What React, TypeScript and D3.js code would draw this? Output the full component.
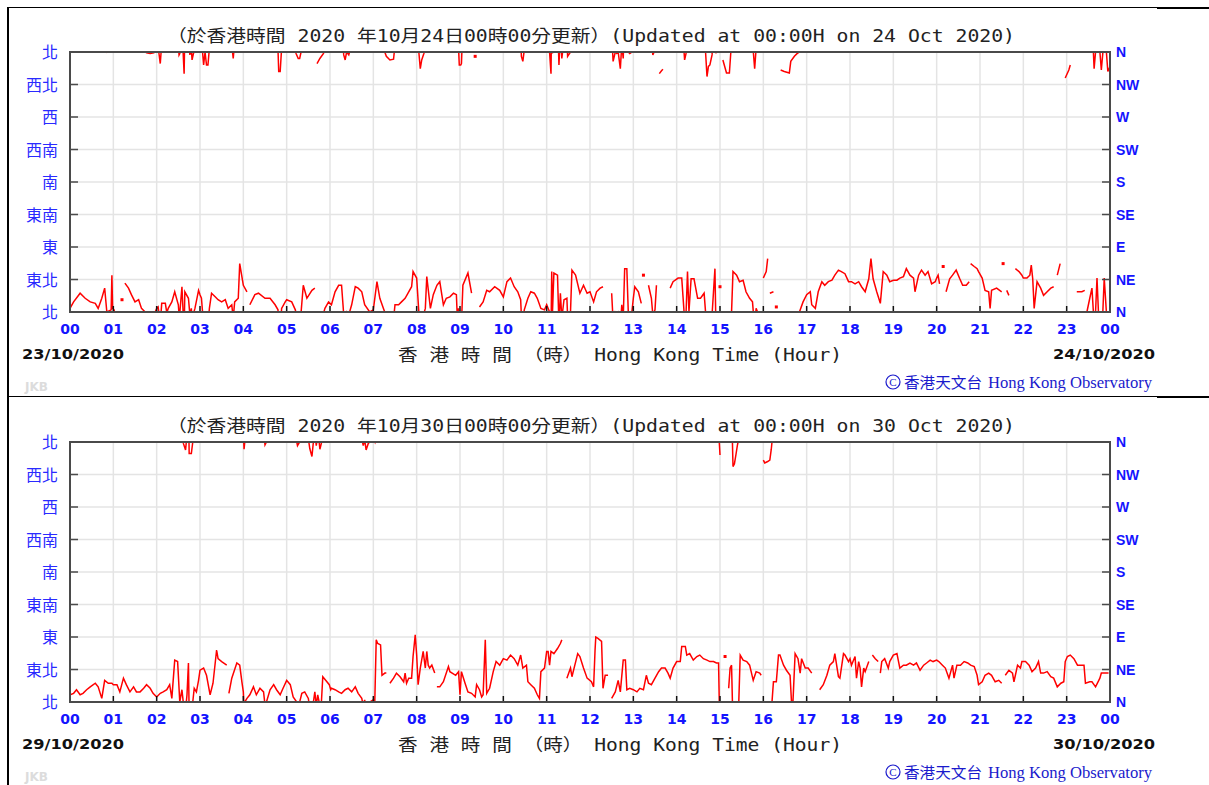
import React from "react";
import * as d3 from "d3";

// [minutes after 00:00, wind direction in degrees]; null marks a gap in the record
type Reading = [number, number | null];

const hourLabels = [
  "00", "01", "02", "03", "04", "05", "06", "07", "08", "09", "10", "11",
  "12", "13", "14", "15", "16", "17", "18", "19", "20", "21", "22", "23", "00",
];
const dirDegrees = [0, 45, 90, 135, 180, 225, 270, 315, 360];
const dirZh = ["北", "東北", "東", "東南", "南", "西南", "西", "西北", "北"];
const dirEn = ["N", "NE", "E", "SE", "S", "SW", "W", "NW", "N"];

const day1Readings: Reading[] = [
  [0, 5], [5, 14], [14, 26], [21, 19], [28, 14], [35, 12], [39, 5], [44, 19], [48, 33], [51, 0], [57, 3], [58, 51], [59, 5], [61, 3], [62, 359], [64, null],
  [72, 17], [74, null],
  [76, 40], [81, 33], [85, 24], [90, 14], [95, 17], [99, 5], [104, 0], [106, 359], [111, 358], [116, 359], [118, 0], [120, 5], [122, 7], [125, 344], [127, 12], [132, 12], [134, 359], [136, 5], [141, 14], [145, 28], [150, 10], [151, 356], [152, 358], [155, 35], [158, 330], [159, 28], [164, 19], [166, 356], [168, 5], [169, 349], [171, 358], [173, 5], [178, 30], [180, 24], [182, 19], [185, 342], [187, 0], [189, 342], [191, 342], [193, 5], [196, 26], [201, 21], [205, 17], [210, 14], [215, 17], [219, 5], [224, 10], [226, 351], [228, 14], [233, 19], [235, 67], [240, 37], [245, 28], [247, null],
  [249, 10], [256, 24], [261, 26], [270, 19], [277, 19], [284, 10], [288, 3], [289, 333], [291, 333], [293, 5], [298, 14], [300, 17], [307, 14], [312, 3], [313, 358], [316, 351], [318, 351], [320, 0], [323, 37], [328, 19], [335, 30], [339, 33], [341, null],
  [342, 344], [346, 351], [351, 358], [353, 5], [358, 14], [362, 10], [367, 28], [372, 37], [376, 37], [378, 10], [379, 356], [381, 349], [383, 0], [386, 356], [390, 10], [395, 35], [399, 33], [404, 28], [408, 10], [415, 0], [420, 3], [425, 42], [429, 19], [434, 5], [438, 354], [443, 349], [448, 350], [450, 10], [455, 10], [459, 14], [464, 19], [469, 28], [473, 35], [475, 56], [480, 47], [483, 0], [485, 337], [487, 349], [490, 358], [492, 5], [494, 49], [499, 5], [503, 24], [508, 37], [512, 42], [517, 10], [521, 19], [526, 21], [531, 26], [535, 24], [536, 359], [538, 5], [539, 342], [541, 342], [542, 344], [544, 37], [551, 54], [556, 26], [558, null],
  [561, 354], [563, null],
  [567, 7], [572, 14], [577, 30], [581, 28], [588, 35], [595, 30], [600, 21], [605, 42], [610, 47], [615, 35], [620, 28], [624, 17], [625, 354], [627, 347], [629, 3], [634, 19], [638, 28], [643, 26], [647, 19], [652, 5], [657, 3], [660, 10], [664, 0], [666, 330], [667, 56], [668, 358], [670, 54], [675, 51], [677, 342], [679, 26], [681, 351], [684, 17], [688, 19], [689, 354], [693, 0], [695, 58], [700, 51], [706, 26], [711, 37], [716, 26], [720, 28], [725, 14], [729, 28], [734, 33], [738, 35], [741, null],
  [750, 26], [752, 347], [755, 0], [757, 358], [759, 0], [762, 337], [764, 10], [766, 351], [768, 60], [771, 60], [773, 0], [775, 358], [778, 0], [780, 19], [782, 35], [787, 28], [791, 12], [793, null],
  [794, 51], [796, null],
  [801, 37], [805, 19], [807, 356], [810, 3], [812, 37], [814, null],
  [816, 330], [819, 334], [821, 336], [823, null],
  [831, 33], [835, 42], [842, 47], [847, 47], [851, 349], [853, 358], [855, 56], [857, 0], [860, 46], [864, 46], [869, 19], [873, 19], [878, 26], [880, 0], [882, 326], [884, 340], [886, 342], [889, 356], [891, 28], [893, 60], [894, 0], [895, 358], [896, null],
  [900, 35], [902, null],
  [904, 349], [909, 331], [913, 331], [915, 360], [916, 0], [918, 56], [923, 51], [927, 42], [932, 44], [936, 28], [941, 19], [945, 14], [948, 337], [950, 5], [952, 0], [954, null],
  [960, 47], [964, 56], [966, 74], [968, null],
  [969, 26], [974, 28], [976, null],
  [978, 7], [980, null],
  [984, 335], [989, 333], [996, 331], [998, 347], [1003, 354], [1007, 358], [1010, 0], [1015, 14], [1020, 24], [1025, 28], [1027, 10], [1032, 5], [1036, 28], [1041, 42], [1045, 37], [1050, 42], [1055, 44], [1059, 51], [1064, 58], [1068, 56], [1073, 53], [1078, 42],
  [1082, 42], [1087, 39], [1092, 42], [1096, 35], [1101, 28], [1106, 46], [1109, 74], [1112, 46], [1117, 28], [1122, 12], [1126, 56], [1131, 51], [1135, 42], [1140, 44],
  [1145, 44], [1149, 47], [1154, 49], [1158, 60], [1163, 51], [1168, 47], [1170, 28], [1175, 51], [1179, 58], [1184, 51], [1188, 56], [1193, 39], [1198, 42], [1200, 47],
  [1202, 51], [1204, 39], [1206, null],
  [1209, 63], [1211, null],
  [1213, 28], [1218, 46], [1222, 51], [1227, 58], [1232, 46], [1236, 37], [1241, 37], [1245, 42], [1246, null],
  [1247, 67], [1252, 63], [1256, 60], [1258, 56], [1263, 47], [1267, 30], [1272, 28], [1274, 5], [1276, 30], [1283, 33], [1290, 28], [1291, null],
  [1292, 67], [1294, null],
  [1297, 30], [1300, 23], [1302, null],
  [1309, 60], [1314, 56], [1318, 51], [1320, 47], [1325, 47], [1329, 51], [1331, 65], [1333, 46], [1335, 5], [1339, 42], [1344, 33], [1348, 23], [1353, 28], [1358, 33], [1362, 35], [1364, null],
  [1367, 51], [1371, 67], [1373, null],
  [1378, 324], [1383, 335], [1385, 342], [1387, null],
  [1394, 28], [1401, 28], [1405, 30], [1407, null],
  [1408, 0], [1412, 19], [1415, 33], [1417, 0], [1418, 337], [1420, 360], [1422, 47], [1424, 0], [1426, 360], [1428, 335], [1430, 358], [1432, 47], [1435, 0], [1437, 333], [1440, 340],
];

const day2Readings: Reading[] = [
  [0, 10], [5, 12], [9, 17], [14, 10], [18, 12], [23, 17], [28, 21], [35, 26], [39, 21], [44, 5], [48, 30], [53, 26], [58, 26], [60, 24],
  [65, 24], [69, 14], [74, 33], [78, 24], [83, 14], [88, 21], [92, 14], [97, 14], [102, 19], [106, 24], [111, 19], [115, 12], [120, 7],
  [125, 12], [129, 14], [134, 17], [138, 24], [141, 5], [145, 58], [149, 56], [152, 0], [155, 17], [157, 358], [160, 349], [162, 10], [164, 54], [165, 344], [168, 344], [170, 0], [172, 19], [175, 14], [178, 30], [180, 44],
  [185, 47], [189, 37], [194, 10], [198, 26], [203, 72], [205, 60], [210, 56], [217, 51], [219, null],
  [220, 12], [224, 33], [231, 54], [235, 51], [238, 28], [240, 14], [241, 350], [242, 0], [245, 5], [249, 10], [254, 21], [258, 10], [263, 19], [268, 14], [270, 356], [272, 0], [277, 17], [282, 24], [286, 17], [291, 10], [295, 19], [300, 30],
  [305, 24], [309, 7], [314, 0], [315, 355], [318, 0], [321, 12], [325, 14], [330, 5], [332, 351], [335, 340], [337, 0], [339, 14], [341, 355], [343, 10], [345, 0], [346, 350], [348, 358], [350, 35], [354, 30], [359, 24], [361, 17],
  [362, 19], [367, 17], [372, 14], [376, 12], [381, 17], [385, 19], [390, 14], [395, 21], [399, 12], [404, 5], [406, 355], [408, 3], [410, 349], [413, 358], [415, 0], [420, 3],
  [422, 0], [424, 86], [426, 81], [430, 79], [432, 37], [436, 40], [438, 40], [440, null],
  [443, 26], [448, 33], [452, 40], [457, 35], [462, 28], [464, 40], [466, 26], [469, 33], [473, 33], [475, 63], [478, 93], [480, 65],
  [482, 24], [485, 47], [489, 70], [492, 47], [494, 70], [496, 51], [498, 47], [501, 51], [505, 40], [507, null],
  [508, 21], [512, 21], [517, 28], [524, 49], [526, 42], [534, 37], [538, 42],
  [540, 10], [542, 42], [547, 26], [551, 14], [556, 12], [561, 7], [563, 24], [567, 17], [570, 7], [572, 10], [575, 86], [577, 12], [581, 19], [586, 42], [590, 56], [595, 51],
  [600, 60], [605, 58], [610, 65], [615, 60], [620, 51], [624, 65], [627, 47], [632, 51], [634, 28], [638, 24], [643, 19], [647, 10], [650, 5], [652, 42], [657, 47], [660, 70],
  [662, 70], [664, 51], [666, 70], [670, 67], [675, 74], [679, 81], [681, 86], [683, null],
  [688, 33], [693, 47], [695, 35], [699, 51], [703, 67], [706, 63], [711, 47], [716, 33], [722, 28],
  [725, 21], [727, 72], [728, 90], [731, 88], [736, 84], [738, 19], [741, 37], [745, 37], [747, null],
  [750, 5], [755, 14], [759, 30], [762, 14], [766, 58], [769, 58], [771, 17], [775, 19], [780, 17],
  [785, 14], [789, 19], [794, 17], [798, 37], [801, 26], [805, 24], [810, 33], [815, 42], [819, 47], [824, 47], [828, 40], [831, 33], [835, 47], [840, 56],
  [845, 56], [847, 77], [852, 77], [854, 65], [858, 67], [863, 58], [868, 63], [872, 65], [877, 60], [882, 58], [886, 56], [891, 56], [895, 54], [898, 54], [899, 0], [900, 342], [902, null],
  [907, 63], [909, null],
  [912, 19], [914, 47], [916, 51], [918, 326], [920, 330], [922, 342], [924, 355], [925, 360], [926, 0], [928, 65], [932, 58], [937, 56], [941, 51], [946, 30], [950, 42], [955, 40], [957, 37], [959, null],
  [960, 335], [962, 331], [966, 333], [969, 335], [971, 350], [972, 0], [974, 28], [978, 28], [981, 65], [983, 65], [988, 51], [992, 44], [997, 37], [999, 0], [1001, 360], [1004, 67], [1008, 60], [1011, 40], [1013, 60], [1018, 47], [1022, 47], [1027, 40], [1029, null],
  [1038, 17], [1043, 24], [1048, 37], [1052, 51], [1057, 56], [1059, 67], [1064, 35], [1066, 33], [1071, 67], [1073, 65], [1078, 56], [1080, 60],
  [1082, 51], [1087, 63], [1089, 33], [1092, 56], [1094, 47], [1096, 21], [1099, 47], [1101, 42], [1106, 56], [1108, null],
  [1111, 65], [1115, 60], [1119, 56], [1121, null],
  [1122, 40], [1124, 56], [1128, 60], [1133, 47], [1135, 56], [1140, 65],
  [1145, 67], [1149, 47], [1154, 51], [1158, 51], [1163, 54], [1168, 51], [1172, 54], [1177, 44], [1182, 51], [1186, 54], [1191, 58], [1195, 56], [1200, 58],
  [1203, 56], [1208, 51], [1212, 47], [1217, 33], [1222, 51], [1224, 33], [1228, 51], [1233, 51], [1238, 56], [1243, 54], [1247, 51], [1252, 49], [1256, 37], [1258, 24],
  [1263, 28], [1267, 37], [1272, 40], [1276, 37], [1281, 28], [1286, 30], [1290, 26], [1292, null],
  [1295, 37], [1300, 44], [1305, 40], [1307, 28], [1312, 51], [1316, 47], [1318, 56],
  [1323, 56], [1328, 51], [1332, 42], [1337, 47], [1341, 56], [1344, 40], [1348, 40], [1353, 42], [1358, 35], [1362, 33], [1367, 21], [1372, 26], [1376, 28], [1378, 56],
  [1381, 63], [1385, 65], [1390, 60], [1395, 51], [1399, 51], [1404, 51], [1406, 26], [1412, 28], [1415, 28], [1420, 21], [1426, 33], [1428, 40], [1438, 40],
];

const panels = [
  {
    title: "（於香港時間 2020 年10月24日00時00分更新）(Updated at 00:00H on 24 Oct 2020)",
    startDate: "23/10/2020",
    endDate: "24/10/2020",
    readings: day1Readings,
  },
  {
    title: "（於香港時間 2020 年10月30日00時00分更新）(Updated at 00:00H on 30 Oct 2020)",
    startDate: "29/10/2020",
    endDate: "30/10/2020",
    readings: day2Readings,
  },
];

const mod360 = (v: number) => ((v % 360) + 360) % 360;

// split on gaps and unwrap each run so a swing through north stays one short step
function toRuns(readings: Reading[]) {
  const runs: [number, number][][] = [];
  let cur: [number, number][] = [];
  for (const [t, v] of readings) {
    if (v === null) {
      if (cur.length) runs.push(cur);
      cur = [];
      continue;
    }
    if (cur.length) {
      const prev = cur[cur.length - 1][1];
      const d = mod360(v - prev + 180) - 180;
      cur.push([t, prev + d]);
    } else cur.push([t, v]);
  }
  if (cur.length) runs.push(cur);
  return runs;
}

const BLUE = "#1414ff";
const AXIS = "#4a4a4a";

function Panel({ cfg, index }: { cfg: (typeof panels)[number]; index: number }) {
  const x = d3.scaleLinear().domain([0, 1440]).range([70, 1110]);
  const y = d3.scaleLinear().domain([0, 360]).range([312, 52]);
  const line = d3
    .line<[number, number]>()
    .x((d) => x(d[0]))
    .y((d) => y(d[1]));
  const runs = toRuns(cfg.readings);
  const clipId = "plot-clip-" + index;
  const offsets = [-720, -360, 0, 360, 720];

  return (
    <g transform={`translate(0,${index * 390})`}>
      <defs>
        <clipPath id={clipId}>
          <rect x={70} y={51} width={1040} height={262} />
        </clipPath>
      </defs>

      <text
        x={167}
        y={42}
        fontFamily="'DejaVu Sans Mono', 'Noto Sans CJK TC', monospace"
        fontSize={17}
        fill="#222"
        textLength={848}
        lengthAdjust="spacingAndGlyphs"
      >
        {cfg.title}
      </text>

      {/* grid */}
      {d3.range(1, 24).map((h) => (
        <line key={"gx" + h} x1={x(h * 60)} x2={x(h * 60)} y1={52} y2={312} stroke="#e4e4e4" strokeWidth={1.5} />
      ))}
      {dirDegrees.slice(1, -1).map((d) => (
        <line key={"gy" + d} x1={70} x2={1110} y1={y(d)} y2={y(d)} stroke="#e4e4e4" strokeWidth={1.5} />
      ))}

      {/* wind direction trace */}
      <g clipPath={`url(#${clipId})`}>
        {runs
          .filter((r) => r.length > 1)
          .map((r, i) =>
            offsets.map((off) => (
              <path
                key={i + "_" + off}
                d={line(r.map(([t, u]) => [t, u + off] as [number, number])) || ""}
                fill="none"
                stroke="#ff0000"
                strokeWidth={1.5}
              />
            ))
          )}
        {runs
          .filter((r) => r.length === 1)
          .map((r, i) => (
            <rect
              key={"pt" + i}
              x={x(r[0][0]) - 1.5}
              y={y(mod360(r[0][1])) - 1.5}
              width={3}
              height={3}
              fill="#ff0000"
            />
          ))}
      </g>

      {/* ticks */}
      {dirDegrees.slice(1, -1).map((d) => (
        <g key={"t" + d}>
          <line x1={70} x2={78} y1={y(d)} y2={y(d)} stroke={AXIS} strokeWidth={1.5} />
          <line x1={1102} x2={1110} y1={y(d)} y2={y(d)} stroke={AXIS} strokeWidth={1.5} />
        </g>
      ))}
      {d3.range(1, 24).map((h) => (
        <line key={"tx" + h} x1={x(h * 60)} x2={x(h * 60)} y1={306} y2={312} stroke="#111" strokeWidth={1.5} />
      ))}
      <rect x={70} y={52} width={1040} height={260} fill="none" stroke={AXIS} strokeWidth={2} />

      {/* direction labels */}
      {dirDegrees.map((d, i) => (
        <text
          key={"zh" + i}
          x={58}
          y={y(d) + 6}
          textAnchor="end"
          fontFamily="'Noto Sans CJK TC', sans-serif"
          fontSize={16}
          fill="#2a2aff"
        >
          {dirZh[i]}
        </text>
      ))}
      {dirDegrees.map((d, i) => (
        <text
          key={"en" + i}
          x={1116}
          y={y(d) + 5}
          fontFamily="'Liberation Sans', Arial, sans-serif"
          fontWeight="bold"
          fontSize={14}
          fill={BLUE}
        >
          {dirEn[i]}
        </text>
      ))}

      {/* hour labels */}
      {hourLabels.map((lab, h) => (
        <text
          key={"h" + h}
          x={x(h * 60)}
          y={334}
          textAnchor="middle"
          fontFamily="'DejaVu Sans', Verdana, sans-serif"
          fontWeight="bold"
          fontSize={14}
          fill={BLUE}
        >
          {lab}
        </text>
      ))}

      <text x={22} y={359} fontFamily="'DejaVu Sans', Verdana, sans-serif" fontWeight="bold" fontSize={14} fill="#111" textLength={102} lengthAdjust="spacingAndGlyphs">
        {cfg.startDate}
      </text>
      <text x={1053} y={359} fontFamily="'DejaVu Sans', Verdana, sans-serif" fontWeight="bold" fontSize={14} fill="#111" textLength={102} lengthAdjust="spacingAndGlyphs">
        {cfg.endDate}
      </text>

      <text
        x={398}
        y={361}
        fontFamily="'DejaVu Sans Mono', 'Noto Sans CJK TC', monospace"
        fontSize={17}
        fill="#222"
        textLength={444}
        lengthAdjust="spacingAndGlyphs"
      >
        香 港 時 間 （時） Hong Kong Time (Hour)
      </text>

      <text x={25} y={391} fontFamily="'DejaVu Sans', sans-serif" fontWeight="bold" fontSize={12} fill="#dcdcdc">
        JKB
      </text>

      {/* observatory credit */}
      <circle cx={893} cy={382} r={7} fill="none" stroke="#1a1acc" strokeWidth={1.2} />
      <text x={893} y={386} textAnchor="middle" fontFamily="'Liberation Serif', serif" fontSize={11} fill="#1a1acc">
        C
      </text>
      <text x={904} y={388} fontFamily="'Noto Sans CJK TC', sans-serif" fontSize={15} fill="#1a1acc" textLength={78} lengthAdjust="spacingAndGlyphs">
        香港天文台
      </text>
      <text x={988} y={388} fontFamily="'Liberation Serif', serif" fontSize={16} fill="#1a1acc" textLength={164} lengthAdjust="spacingAndGlyphs">
        Hong Kong Observatory
      </text>
    </g>
  );
}

export default function App() {
  return (
    <div style={{ position: "absolute", left: 0, top: 0, background: "#fff" }}>
      <svg width={1209} height={785} style={{ display: "block" }}>
        <rect width={1209} height={785} fill="#fff" />
        {panels.map((p, i) => (
          <Panel key={i} cfg={p} index={i} />
        ))}
        {/* outer frame */}
        <line x1={8} x2={1209} y1={7.5} y2={7.5} stroke="#000" strokeWidth={1.2} />
        <rect x={1157} y={7} width={52} height={2} fill="#000" />
        <line x1={8} x2={8} y1={7} y2={785} stroke="#000" strokeWidth={2} />
        <line x1={8} x2={1209} y1={396.5} y2={396.5} stroke="#000" strokeWidth={1.2} />
        <rect x={1157} y={396} width={52} height={2} fill="#000" />
      </svg>
    </div>
  );
}
